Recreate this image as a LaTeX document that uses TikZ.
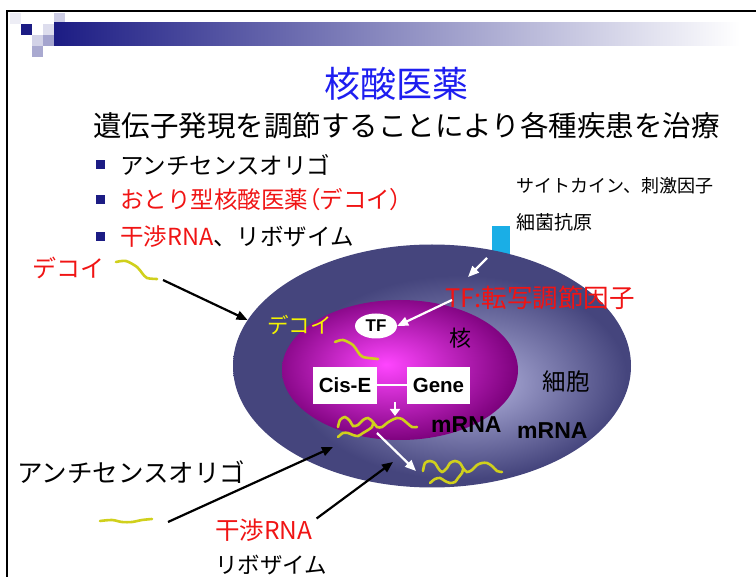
\documentclass[tikz,border=0pt]{standalone}
\usepackage{fontspec}
\setmainfont{Liberation Sans}
\newfontfamily\jp{Noto Sans CJK JP}
\usetikzlibrary{shapes.geometric,arrows.meta}

\definecolor{navy}{HTML}{1C1C84}
\definecolor{titleblue}{HTML}{1E1EF0}
\definecolor{alert}{HTML}{F01414}
\definecolor{oligo}{HTML}{D0D01C}
\definecolor{decoytext}{HTML}{F4F400}
\definecolor{receptor}{HTML}{1AAEE6}
\definecolor{cellhi}{HTML}{9C9CCA}
\definecolor{cellout}{HTML}{45457D}
\definecolor{nuchi}{HTML}{FF45FF}
\definecolor{nucout}{HTML}{7A007A}

\pgfdeclareradialshading{cellshade}{\pgfpoint{6bp}{-4bp}}{color(0bp)=(cellhi); color(4bp)=(cellhi); color(21bp)=(cellout); color(50bp)=(cellout)}
\pgfdeclareradialshading{nucshade}{\pgfpoint{-3bp}{2bp}}{color(0bp)=(nuchi); color(4bp)=(nuchi!85!nucout); color(27bp)=(nucout); color(50bp)=(nucout)}

\begin{document}
\begin{tikzpicture}[x=1pt,y=-1pt,
  jp/.style={font=\jp\fontsize{#1}{#1}\selectfont,inner sep=0pt},
  lat/.style={font=\bfseries\fontsize{#1}{#1}\selectfont,inner sep=0pt},
  bullet/.style={fill=navy,minimum size=9pt,inner sep=0pt},
  strand/.style={draw=oligo,line width=2.6pt,line cap=round},
  ptr/.style={-{Triangle[length=11pt,width=9pt]},line width=2.2pt},
  wptr/.style={ptr,white},
  gbox/.style={fill=white,minimum width=64pt,minimum height=37pt,lat=20.5}]
\useasboundingbox (0,0) rectangle (756,577);

% header
\fill[navy!8] (10,13) rectangle ++(11,11);
\fill[navy] (21,24) rectangle ++(11,11);
\fill[navy!20] (32,35) rectangle ++(11,11);
\fill[navy!38] (32,46) rectangle ++(11,11);
\fill[navy!15] (43,24) rectangle ++(11,11);
\fill[navy!40] (43,35) rectangle ++(11,11);
\fill[navy!22] (54,13) rectangle ++(11,11);
\shade[left color=navy,right color=white] (54,23) rectangle (740,46);
\draw[line width=1.6pt] (7,577) -- (7,11) -- (756,11);

\node[jp=36,text=titleblue] (title) at (396,84) {核酸医薬};
\node[jp=28.5,anchor=west] (aim) at (93,126) {遺伝子発現を調節することにより各種疾患を治療};

\node[bullet] (b1) at (100,165) {};
\node[bullet] (b2) at (100,200) {};
\node[bullet] (b3) at (100,237) {};
\node[jp=23.5,anchor=west] (antisense) at (120,165) {アンチセンスオリゴ};
\node[jp=23.5,anchor=west,text=alert] (decoydrug) at (120,200) {おとり型核酸医薬{\addfontfeature{RawFeature=+palt}（}デコイ{\addfontfeature{RawFeature=+palt}）}};
\node[jp=23.5,anchor=west] (rnai) at (120,237) {\textcolor{alert}{干渉RNA}、リボザイム};

\node[jp=18,anchor=west] (cytokine) at (516,186) {サイトカイン、刺激因子};
\node[jp=19,anchor=west] (antigen) at (516,222) {細菌抗原};
\node[fill=receptor,minimum width=18pt,minimum height=28pt,inner sep=0pt] (receptor) at (501,240) {};

% cell and nucleus
\node[ellipse,shade,shading=cellshade,minimum width=398pt,minimum height=243pt,inner sep=0pt] (cell) at (432,366) {};
\node[ellipse,shade,shading=nucshade,minimum width=236pt,minimum height=140pt,inner sep=0pt] (nucleus) at (400,370) {};

\node[ellipse,fill=white,minimum width=42pt,minimum height=25pt,inner sep=0pt,lat=17] (tf) at (376,326) {TF};
\node[gbox] (cis) at (345,385.5) {Cis-E};
\node[gbox,minimum width=63pt] (gene) at (438.5,385.5) {Gene};
\draw[white,line width=2pt] (cis) -- (gene);

\node[jp=22] (nuctext) at (460,338) {核};
\node[jp=23.5] (celltext) at (566,382) {細胞};
\node[lat=23,anchor=west] (mrna1) at (431,425) {mRNA};
\node[lat=23,anchor=west] (mrna2) at (517,431) {mRNA};
\node[jp=21.5,anchor=west,text=decoytext] (decoyin) at (267,325) {デコイ};
\node[jp=25.5,anchor=west,text=alert] (tflabel) at (445,298) {TF:転写調節因子};

\node[jp=24,anchor=west,text=alert] (decoyout) at (32,268) {デコイ};
\node[jp=25.5,anchor=west] (asout) at (17,472) {アンチセンスオリゴ};
\node[jp=24.5,anchor=west,text=alert] (sirna) at (215,530) {干渉RNA};
\node[jp=22.5,anchor=west] (ribo) at (215,565) {リボザイム};

% strands
\draw[strand] plot[smooth] coordinates {(116,262) (126,261) (137,267) (142,273) (147,278) (157,279)};
\draw[strand] plot[smooth] coordinates {(335,342) (343,340) (353,345) (358,352) (363,357) (378,359)};
\draw[strand] plot[smooth] coordinates {(338,427) (340,420) (345,417) (350,421) (353,426) (358,425) (363,420) (368,418) (373,422) (377,427) (382,427) (387,423) (392,420) (397,418) (402,419) (407,423) (412,427) (417,427)};
\draw[strand] plot[smooth] coordinates {(338,437) (343,433) (348,433) (353,435) (358,436) (363,433) (368,430) (372,427) (373,423)};
\draw[strand] plot[smooth] coordinates {(423,471) (425,463) (430,461) (435,463) (438,468) (442,472) (447,468) (450,463) (455,461) (460,463) (463,468) (467,472) (472,470) (477,465) (482,463) (487,463) (492,466) (497,471) (502,472)};
\draw[strand] plot[smooth] coordinates {(430,483) (435,479) (440,478) (445,481) (450,483) (455,482) (458,478) (462,473) (463,469)};
\draw[strand] plot[smooth] coordinates {(100,521) (112,520) (122,522) (132,522) (142,520) (152,519)};

% arrows
\coordinate (d1) at (163,280);
\coordinate (a1) at (168,522);
\coordinate (a2) at (333,447);
\coordinate (s2) at (393,462);
\coordinate (r1) at (487,258);
\coordinate (r2) at (468,277);
\coordinate (t1) at (395,402);
\coordinate (t2) at (395,416);
\coordinate (m1) at (377,433);
\coordinate (m2) at (416,471);
\draw[ptr] (d1) -- (cell.166);
\draw[ptr] (a1) -- (a2);
\draw[ptr] ([xshift=4pt]sirna.north east) -- (s2);
\draw[wptr] (r1) -- (r2);
\draw[wptr] ([shift={(7pt,-2pt)}]tflabel.west) -- (tf.east);
\draw[white,line width=2.6pt,-{Triangle[length=7pt,width=10pt]}] (t1) -- (t2);
\draw[wptr] (m1) -- (m2);
\end{tikzpicture}
\end{document}
